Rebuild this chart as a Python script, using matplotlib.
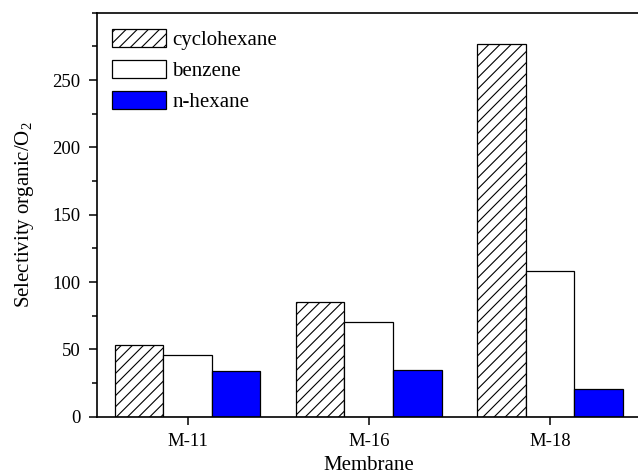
import matplotlib
matplotlib.use("Agg")
import matplotlib.pyplot as plt
import numpy as np
from matplotlib.ticker import MultipleLocator

# ─── Dados ────────────────────────────────────────────────────────────────────
membranes   = ["M-11", "M-16", "M-18"]
cyclohexane = [53.0, 85.5, 277.0]
benzene     = [45.5, 70.0, 108.0]
n_hexane    = [34.0, 34.5, 20.5]

series_labels = ["cyclohexane", "benzene", "n-hexane"]

plt.rcParams["font.family"] = ["Liberation Serif", "DejaVu Serif"]
plt.rcParams["mathtext.fontset"] = "custom"
plt.rcParams["mathtext.rm"] = "Liberation Serif"
plt.rcParams["hatch.linewidth"] = 0.8
plt.rcParams["hatch.color"] = "#333333"


def plot_selectivity(out_path="out.png"):
    fig = plt.figure(figsize=(6.38, 4.75), dpi=100)
    ax = fig.add_axes([0.152, 0.1227, 0.852, 0.8506])

    x = np.arange(len(membranes))
    width = 0.268

    ax.bar(x - width, cyclohexane, width, facecolor="white", edgecolor="black",
           hatch="///", linewidth=0.9, label=series_labels[0])
    ax.bar(x, benzene, width, facecolor="white", edgecolor="black",
           linewidth=0.9, label=series_labels[1])
    ax.bar(x + width, n_hexane, width, facecolor="#0000ff", edgecolor="black",
           linewidth=0.9, label=series_labels[2])

    ax.set_xlim(-0.5, 2.5)
    ax.set_ylim(0, 300)
    ax.set_xticks(x)
    ax.set_xticklabels(membranes, fontsize=13.5)
    ax.set_yticks(np.arange(0, 251, 50))
    ax.yaxis.set_minor_locator(MultipleLocator(25))
    ax.tick_params(axis="y", labelsize=13.5)

    ax.tick_params(which="major", direction="out", length=6, width=1.1, pad=6)
    ax.tick_params(which="minor", direction="out", length=3.5, width=1.1)
    ax.tick_params(axis="x", which="minor", bottom=False)

    for side in ["left", "bottom", "top"]:
        ax.spines[side].set_linewidth(1.2)
    ax.spines["right"].set_visible(False)

    ax.set_xlabel("Membrane", fontsize=15, labelpad=4)
    ax.set_ylabel(r"Selectivity organic/O$_\mathrm{2}$", fontsize=15, labelpad=12)

    ax.legend(loc="upper left", bbox_to_anchor=(0.0276, 0.96),
              frameon=False, fontsize=15, handlelength=2.6, handleheight=1.0,
              handletextpad=0.3, labelspacing=0.45, borderpad=0,
              borderaxespad=0)

    fig.savefig(out_path, dpi=100)
    plt.close(fig)


if __name__ == "__main__":
    plot_selectivity()
